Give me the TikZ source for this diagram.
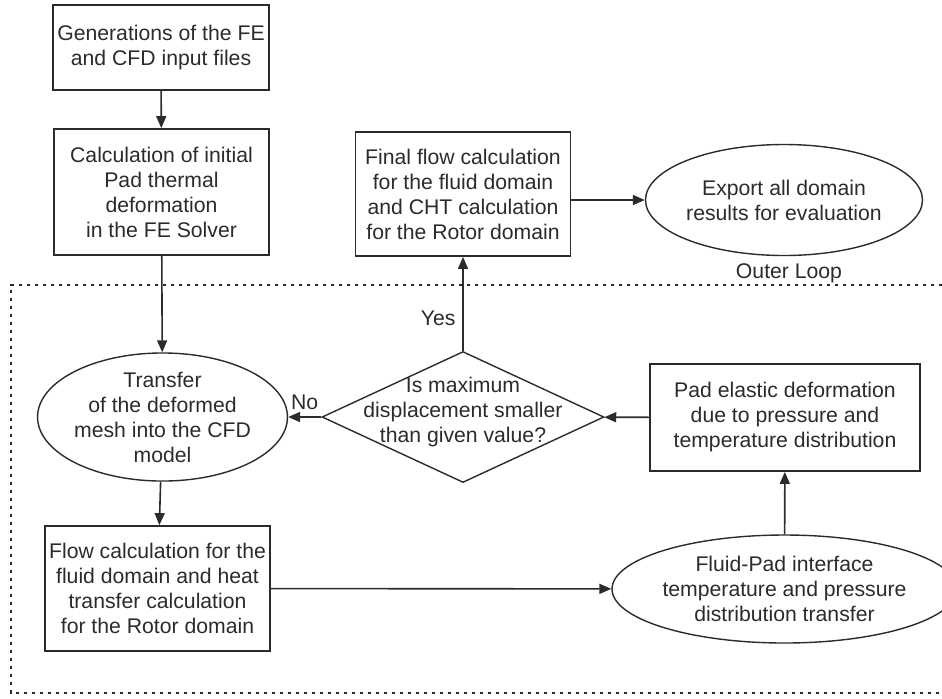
\documentclass[tikz,border=0pt]{standalone}
\usepackage{fontspec}
\setmainfont{Liberation Sans}
\usetikzlibrary{arrows.meta,shapes.geometric}
\definecolor{ink}{gray}{0.17}

\begin{document}
\begin{tikzpicture}[x=0.5pt,y=-0.5pt,
        every node/.style={text=ink,font=\fontsize{10.6}{12.5}\selectfont,align=center},
        box/.style={draw=ink,line width=0.9pt,rectangle,inner sep=2pt},
        oval/.style={draw=ink,line width=0.7pt,ellipse,inner sep=0pt},
        decision/.style={draw=ink,line width=0.7pt,diamond,inner sep=0pt,minimum width=141pt,minimum height=65.5pt},
        arr/.style={draw=ink,line width=0.8pt,-{Triangle[length=6pt,width=5pt]}}]
        \useasboundingbox (0,0) rectangle (942,698);

        % outer loop frame
        \draw[ink,line width=0.8pt,dash pattern=on 1.6pt off 2.4pt]
                (942,285) -- (11,285) -- (11,693) -- (942,693);
        \node (outer) at (789,273) {Outer Loop};

        \node[box,minimum width=108pt,minimum height=42.5pt] (gen) at (161,47.5)
                {Generations of the FE\\and CFD input files};
        \node[box,minimum width=107.5pt,minimum height=63pt] (init) at (161.5,192)
                {Calculation of initial\\Pad thermal\\deformation\\in the FE Solver};
        \node[box,minimum width=107.5pt,minimum height=62pt] (final) at (463,194)
                {Final flow calculation\\for the fluid domain\\and CHT calculation\\for the Rotor domain};
        \node[oval,minimum width=138.5pt,minimum height=55.5pt] (export) at (784,200)
                {Export all domain\\results for evaluation};

        \node[oval,minimum width=112.5pt,minimum height=54pt] (transfer) at (162.5,417)
                {Transfer\\of the deformed\\mesh into the CFD\\model};
        \node[decision] (check) at (463,417) {};
        \node (checktext) at (463,412) {Is maximum\\displacement smaller\\than given value?};
        \node[box,minimum width=135pt,minimum height=53.5pt] (pad) at (785,417.5)
                {Pad elastic deformation\\due to pressure and\\temperature distribution};

        \node[box,minimum width=110.5pt,minimum height=62.5pt] (flow) at (157.5,588.5)
                {Flow calculation for the\\fluid domain and heat\\transfer calculation\\for the Rotor domain};
        \node[oval,minimum width=138.5pt,minimum height=54pt] (fluid) at (784.5,589)
                {Fluid-Pad interface\\temperature and pressure\\distribution transfer};

        \draw[arr] (gen) -- (init);
        \draw[arr] (init) -- (transfer);
        \draw[arr] (transfer) -- (flow);
        \draw[arr] (flow) -- (fluid);
        \draw[arr] (fluid) -- (pad);
        \draw[arr] (pad) -- (check);
        \draw[arr] (check.west) -- node[above,pos=0.5] (no) {No} (transfer.east);
        \draw[arr] (check.north) -- node[left,pos=0.35] (yes) {Yes} (final.south);
        \draw[arr] (final.east |- export.west) -- (export.west);
\end{tikzpicture}
\end{document}
